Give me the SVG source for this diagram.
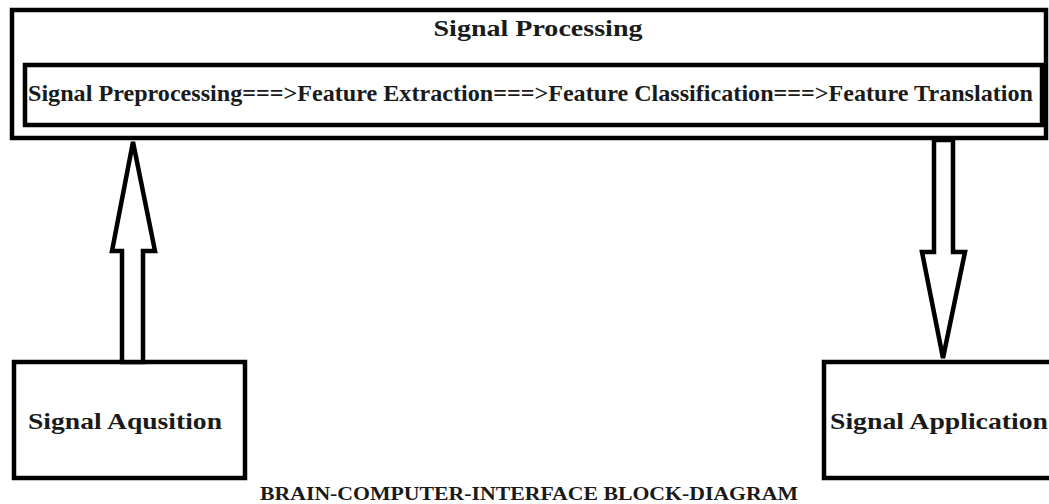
<svg xmlns="http://www.w3.org/2000/svg" width="1049" height="504" viewBox="0 0 1049 504">
<style>
.box{fill:none;stroke:#000;stroke-width:4.5}
.arr{fill:#fff;stroke:#000;stroke-width:4.5;stroke-linejoin:miter}
.t{font-family:"Liberation Serif","Times New Roman",serif;font-weight:bold;fill:#1a1a1a}
</style>
<rect width="1049" height="504" fill="#fff"/>
<g id="signal-processing">
<rect class="box" x="12" y="10" width="1034" height="128"/>
<text class="t" x="538" y="36" font-size="24" text-anchor="middle" textLength="209" lengthAdjust="spacingAndGlyphs">Signal Processing</text>
</g>
<g id="pipeline">
<rect class="box" x="25" y="65" width="1017" height="60"/>
<text class="t" x="28" y="101" font-size="23" textLength="1005" lengthAdjust="spacingAndGlyphs">Signal Preprocessing===&gt;Feature Extraction===&gt;Feature Classification===&gt;Feature Translation</text>
</g>
<g id="signal-aqusition">
<rect class="box" x="14" y="362" width="231" height="116"/>
<text class="t" x="125" y="429" font-size="24" text-anchor="middle" textLength="194" lengthAdjust="spacingAndGlyphs">Signal Aqusition</text>
</g>
<g id="signal-application">
<rect class="box" x="824" y="362" width="240" height="116"/>
<text class="t" x="830" y="429" font-size="24" textLength="218" lengthAdjust="spacingAndGlyphs">Signal Application</text>
</g>
<g id="connectors">
<polygon class="arr" points="133,142 155,251 143,251 143,362 122,362 122,251 112,251"/>
<polygon class="arr" points="934,140 953,140 953,252 965,252 943,358 922,252 934,252"/>
</g>
<text id="title" class="t" x="529" y="500" font-size="18" text-anchor="middle" textLength="538" lengthAdjust="spacingAndGlyphs">BRAIN-COMPUTER-INTERFACE BLOCK-DIAGRAM</text>
</svg>
